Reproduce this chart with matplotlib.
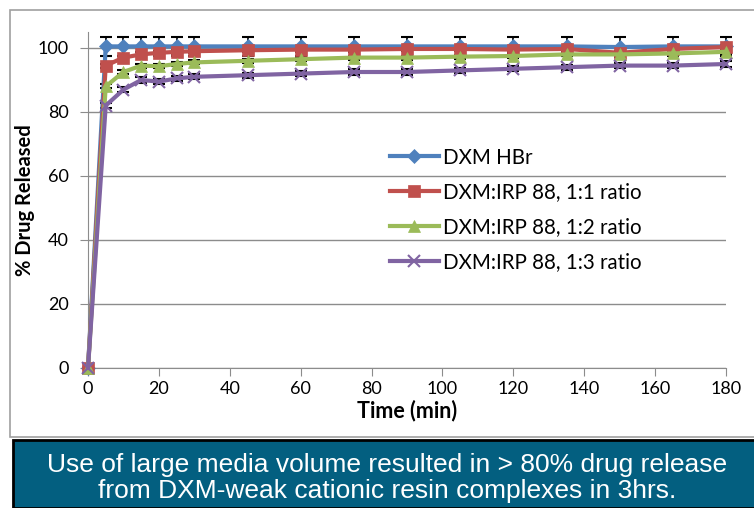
import numpy as np
import matplotlib.pyplot as plt
from matplotlib.patches import Rectangle

plt.rcParams['font.family'] = ['Lato', 'DejaVu Sans']

# Vrijeme uzorkovanja (min)
time = [0, 5, 10, 15, 20, 25, 30, 45, 60, 75, 90, 105, 120, 135, 150, 165, 180]

# % otpustenog lijeka
dxm_hbr = [0, 100.5, 100.5, 100.5, 100.5, 100.5, 100.5, 100.5, 100.5, 100.5, 100.5, 100.5, 100.5, 100.5, 100.3, 100.5, 100.5]
ratio_11 = [0, 94.5, 97.0, 98.0, 98.5, 98.8, 99.0, 99.3, 99.5, 99.5, 99.7, 99.7, 99.5, 99.7, 98.5, 99.7, 100.3]
ratio_12 = [0, 88.0, 92.5, 94.5, 94.3, 95.0, 95.5, 96.0, 96.5, 97.0, 97.0, 97.3, 97.5, 98.0, 98.0, 98.3, 98.8]
ratio_13 = [0, 82.0, 87.0, 90.0, 89.5, 90.5, 91.0, 91.5, 92.0, 92.5, 92.5, 93.0, 93.5, 94.0, 94.5, 94.5, 95.0]

# Standardne devijacije
err_hbr = [0, 3, 3, 3, 3, 3, 3, 3, 3, 3, 3, 3, 3, 3, 3, 3, 3]
err_11 = [0, 0.6, 0.6, 0.6, 0.6, 0.6, 0.6, 0.6, 0.6, 0.6, 0.6, 0.6, 0.6, 0.6, 0.6, 0.6, 0.6]
err_12 = [0, 0.6, 0.6, 0.6, 0.6, 0.6, 0.6, 0.6, 0.6, 0.6, 0.6, 0.6, 0.6, 0.6, 0.6, 0.6, 0.6]
err_13 = [0, 0.8, 0.8, 0.8, 0.8, 0.8, 0.8, 0.8, 0.8, 0.8, 0.8, 0.8, 0.8, 0.8, 0.8, 0.8, 0.8]

labels = ["DXM HBr", "DXM:IRP 88, 1:1 ratio", "DXM:IRP 88, 1:2 ratio", "DXM:IRP 88, 1:3 ratio"]
banner = "Use of large media volume resulted in > 80% drug release\nfrom DXM-weak cationic resin complexes in 3hrs."

fig = plt.figure(figsize=(7.54, 5.08), dpi=100)

# okvir grafa i plavi natpis
fig.patches.append(Rectangle((10/754, 1-437/508), 760/754, 427/508, transform=fig.transFigure,
                             facecolor="white", edgecolor="#a0a0a0", linewidth=1.2, zorder=0))
fig.patches.append(Rectangle((13/754, 0), 760/754, 68/508, transform=fig.transFigure,
                             facecolor="#035f80", edgecolor="black", linewidth=2, zorder=0))
fig.text(387/754, 30/508, banner, ha="center", va="center", color="white", fontsize=19,
         family=["Liberation Sans", "DejaVu Sans"], linespacing=1.08)

ax = fig.add_axes([88/754, 1-368/508, (726-88)/754, (368-32)/508])
ax.set_zorder(5)
ax.patch.set_alpha(0)

series = [
    (dxm_hbr, err_hbr, "#4f81bd", "D", 7),
    (ratio_11, err_11, "#c0504d", "s", 9),
    (ratio_12, err_12, "#9bbb59", "^", 9),
    (ratio_13, err_13, "#8064a2", "x", 8),
]
for (y, e, c, m, ms), lab in zip(series, labels):
    ax.errorbar(time, y, yerr=e, fmt="none", ecolor="black", elinewidth=1.2, capsize=4, capthick=1.5,
                zorder=2, clip_on=False)
    ax.plot(time, y, color=c, marker=m, markersize=ms, linewidth=3, label=lab, zorder=3,
            markeredgewidth=1.5 if m == "x" else 0.5, clip_on=False)

ax.set_xlim(0, 180)
ax.set_ylim(0, 105)
ax.set_xticks(range(0, 181, 20))
ax.set_yticks(range(0, 101, 20))
ax.grid(True, axis="y", color="#8c8c8c", linewidth=1)
ax.set_axisbelow(True)
for s in ["top", "right"]:
    ax.spines[s].set_visible(False)
for s in ["left", "bottom"]:
    ax.spines[s].set_color("#8c8c8c")
ax.tick_params(colors="black", labelsize=13, length=6, color="#8c8c8c")
ax.tick_params(axis="y", pad=8)
ax.set_xlabel("Time (min)", fontsize=15.5, fontweight="bold", labelpad=2)
ax.set_ylabel("% Drug Released", fontsize=14.5, fontweight="bold", labelpad=2)
ax.legend(loc="upper left", bbox_to_anchor=(0.444, 0.711), frameon=False, fontsize=14.8,
          handlelength=2.4, handletextpad=0.2, labelspacing=0.72)

plt.savefig("out.png", dpi=100)
